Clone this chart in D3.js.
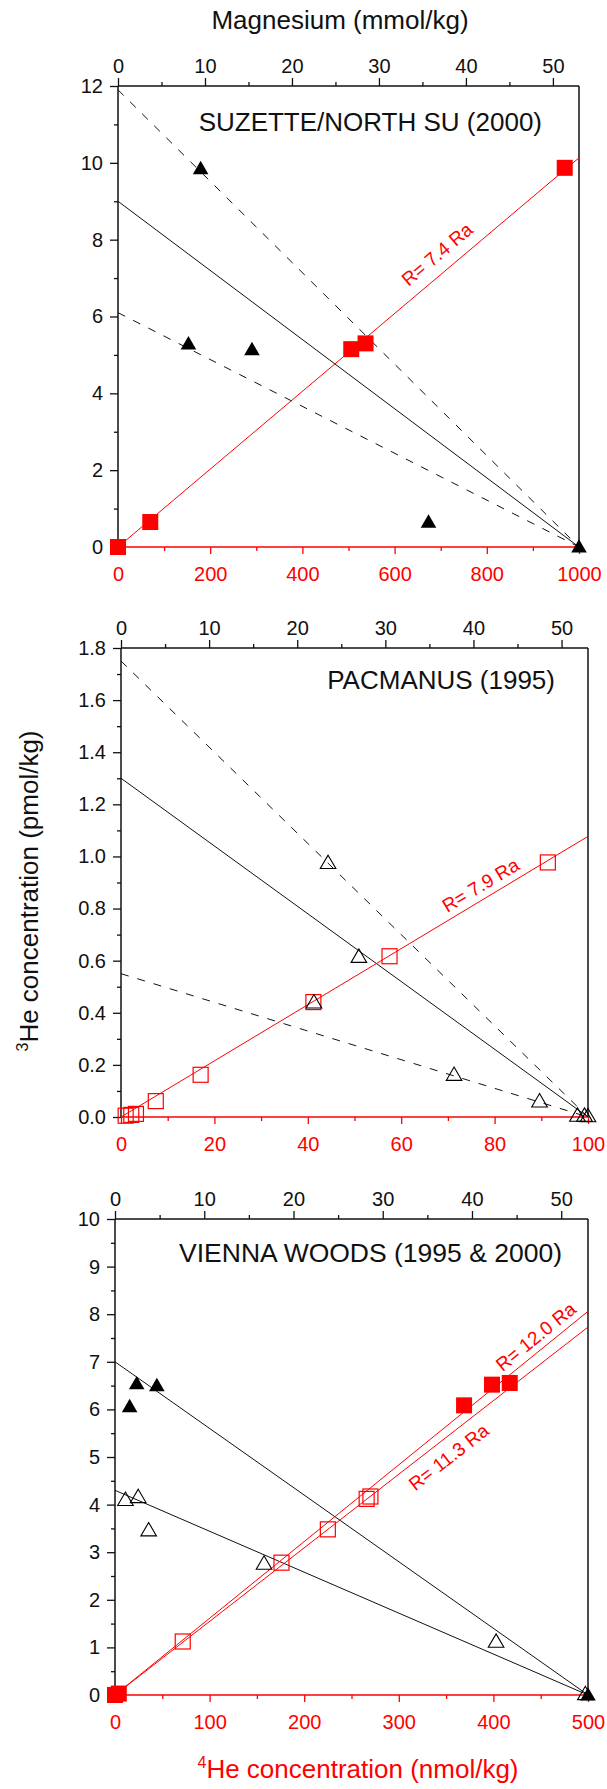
<!DOCTYPE html>
<html><head><meta charset="utf-8">
<script src="https://cdn.jsdelivr.net/npm/d3@7"></script>
<style>body{margin:0;background:#fff} svg text{font-family:"Liberation Sans",Arial,sans-serif}</style>
</head><body><svg id="c" width="607" height="1789"></svg>
<script>
// ---------- DATA ----------
const mgTicks = [0,10,20,30,40,50];
const mgMinor = [5,15,25,35,45];

// Panel 1: SUZETTE/NORTH SU (2000)
const p1Title = "SUZETTE/NORTH SU (2000)";
const p1He4 = [0, 70, 506, 537, 969];
const p1He3 = [0, 0.65, 5.15, 5.30, 9.87];
const p1TriMg = [9.5, 8.1, 15.4, 35.7, 53.0];
const p1TriHe3 = [9.85, 5.29, 5.14, 0.65, 0];
const p1MixSolid = [[0, 9.0], [53, 0]];
const p1MixDash = [[[0, 11.9], [53, 0]], [[0, 6.1], [53, 0]]];
const p1Ratio = [[0, 0], [1000, 10.13]];
const p1Label = {text: "R= 7.4 Ra", x: 692, y: 7.62};
const p1XTicks = [0,200,400,600,800,1000], p1XMinor = [100,300,500,700,900];
const p1YTicks = [0,2,4,6,8,10,12], p1YMinor = [1,3,5,7,9,11];

// Panel 2: PACMANUS (1995)
const p2Title = "PACMANUS (1995)";
const p2He4 = [1.0, 2.2, 3.2, 7.45, 17.05, 41.2, 57.5, 91.4];
const p2He3 = [0.005, 0.008, 0.012, 0.061, 0.162, 0.441, 0.617, 0.977];
const p2TriMg = [23.5, 27.0, 21.9, 37.8, 47.5, 51.8, 52.6, 53.0];
const p2TriHe3 = [0.975, 0.615, 0.44, 0.162, 0.06, 0.005, 0.005, 0.003];
const p2MixSolid = [[0, 1.30], [53, 0]];
const p2MixDash = [[[0, 1.75], [53, 0]], [[0, 0.55], [53, 0]]];
const p2Ratio = [[0, 0], [100, 1.077]];
const p2Label = {text: "R= 7.9 Ra", x: 77.0, y: 0.89};
const p2XTicks = [0,20,40,60,80,100], p2XMinor = [10,30,50,70,90];
const p2YTicks = [0,0.2,0.4,0.6,0.8,1.0,1.2,1.4,1.6,1.8], p2YMinor = [0.1,0.3,0.5,0.7,0.9,1.1,1.3,1.5,1.7];

// Panel 3: VIENNA WOODS (1995 & 2000)
const p3Title = "VIENNA WOODS (1995 & 2000)";
const p3He4Filled = [0, 4, 369, 398.5, 417.3];
const p3He3Filled = [0, 0.03, 6.085, 6.52, 6.555];
const p3He4Open = [71.6, 176, 225, 266, 270];
const p3He3Open = [1.124, 2.78, 3.48, 4.12, 4.17];
const p3TriFilledMg = [1.64, 2.43, 4.69, 53.0];
const p3TriFilledHe3 = [6.06, 6.54, 6.50, 0];
const p3TriOpenMg = [1.17, 2.6, 3.77, 16.7, 42.7, 52.7];
const p3TriOpenHe3 = [4.10, 4.16, 3.46, 2.76, 1.12, 0.02];
const p3MixSolid = [[[0, 7.0], [53, 0]], [[0, 4.3], [53, 0]]];
const p3Ratios = [[[0, 0], [500, 8.06]], [[0, 0], [500, 7.73]]];
const p3Labels = [{text: "R= 12.0 Ra", x: 444.8, y: 7.53, line: 0}, {text: "R= 11.3 Ra", x: 352.7, y: 5.0, line: 1}];
const p3XTicks = [0,100,200,300,400,500], p3XMinor = [50,150,250,350,450];
const p3YTicks = [0,1,2,3,4,5,6,7,8,9,10], p3YMinor = [0.5,1.5,2.5,3.5,4.5,5.5,6.5,7.5,8.5,9.5];

// ---------- DRAW ----------
const RED = "#ff0000";
const svg = d3.select("#c");
const zip = (a, b) => a.map((v, i) => [v, b[i]]);

function makePanel(o) {
  const g = svg.append("g");
  const x = d3.scaleLinear().domain(o.xDom).range([o.l, o.r]);
  const xm = d3.scaleLinear().domain([0, 53]).range([o.l, o.r]);
  const y = d3.scaleLinear().domain(o.yDom).range([o.b, o.t]);

  function styleAxis(sel, color) {
    sel.select(".domain").remove();
    sel.selectAll(".tick line").attr("stroke", color).attr("stroke-width", 1.3);
    sel.selectAll(".tick text").attr("fill", color).attr("font-size", 20)
       .attr("font-family", '"Liberation Sans",Arial,sans-serif');
  }
  // left
  g.append("g").attr("transform", `translate(${o.l},0)`)
    .call(d3.axisLeft(y).tickValues(o.yTicks).tickSize(8).tickPadding(7).tickFormat(o.yFmt))
    .call(s => styleAxis(s, "#111"));
  g.append("g").attr("transform", `translate(${o.l},0)`)
    .call(d3.axisLeft(y).tickValues(o.yMinor).tickSize(4).tickFormat(""))
    .call(s => styleAxis(s, "#111"));
  // top Mg
  g.append("g").attr("transform", `translate(0,${o.t})`)
    .call(d3.axisTop(xm).tickValues(mgTicks).tickSize(8).tickPadding(5).tickFormat(d3.format("d")))
    .call(s => styleAxis(s, "#111"));
  g.append("g").attr("transform", `translate(0,${o.t})`)
    .call(d3.axisTop(xm).tickValues(mgMinor).tickSize(4).tickFormat(""))
    .call(s => styleAxis(s, "#111"));
  // bottom He4
  g.append("g").attr("transform", `translate(0,${o.b})`)
    .call(d3.axisBottom(x).tickValues(o.xTicks).tickSize(7).tickPadding(13).tickFormat(d3.format("d")))
    .call(s => styleAxis(s, RED));
  g.append("g").attr("transform", `translate(0,${o.b})`)
    .call(d3.axisBottom(x).tickValues(o.xMinor).tickSize(4).tickFormat(""))
    .call(s => styleAxis(s, RED));
  // frame
  g.append("line").attr("x1", o.l).attr("x2", o.l).attr("y1", o.t).attr("y2", o.b).attr("stroke", "#111").attr("stroke-width", 1.5);
  g.append("line").attr("x1", o.l).attr("x2", o.r).attr("y1", o.t).attr("y2", o.t).attr("stroke", "#111").attr("stroke-width", 1.5);
  g.append("line").attr("x1", o.r).attr("x2", o.r).attr("y1", o.t).attr("y2", o.b).attr("stroke", "#111").attr("stroke-width", 1.5);
  g.append("line").attr("x1", o.l).attr("x2", o.r).attr("y1", o.b).attr("y2", o.b).attr("stroke", RED).attr("stroke-width", 1.5);

  // title
  g.append("text").attr("x", o.titleX).attr("y", o.titleY).attr("text-anchor", "end")
    .attr("font-size", o.titleSize || 26).attr("fill", "#111").text(o.title);

  return {g, x, xm, y};
}

function mixLine(P, pts, dashed) {
  P.g.append("line")
    .attr("x1", P.xm(pts[0][0])).attr("y1", P.y(pts[0][1]))
    .attr("x2", P.xm(pts[1][0])).attr("y2", P.y(pts[1][1]))
    .attr("stroke", "#111").attr("stroke-width", 1)
    .attr("stroke-dasharray", dashed ? "8,9" : null);
}
function ratioLine(P, pts) {
  P.g.append("line")
    .attr("x1", P.x(pts[0][0])).attr("y1", P.y(pts[0][1]))
    .attr("x2", P.x(pts[1][0])).attr("y2", P.y(pts[1][1]))
    .attr("stroke", RED).attr("stroke-width", 1);
}
function ratioLabel(P, lab, pts) {
  const ang = Math.atan2(P.y(pts[1][1]) - P.y(pts[0][1]), P.x(pts[1][0]) - P.x(pts[0][0])) * 180 / Math.PI;
  const px = P.x(lab.x), py = P.y(lab.y);
  P.g.append("text").attr("transform", `translate(${px},${py}) rotate(${ang})`)
    .attr("text-anchor", "middle").attr("dy", "0.35em")
    .attr("font-size", 19).attr("fill", RED).text(lab.text);
}
function squares(P, xs, ys, filled, size) {
  P.g.selectAll(null).data(zip(xs, ys)).enter().append("rect")
    .attr("x", d => P.x(d[0]) - size / 2).attr("y", d => P.y(d[1]) - size / 2)
    .attr("width", size).attr("height", size)
    .attr("fill", filled ? RED : "none").attr("stroke", RED).attr("stroke-width", filled ? 0 : 1.2);
}
function triangles(P, xs, ys, filled) {
  P.g.selectAll(null).data(zip(xs, ys)).enter().append("path")
    .attr("d", "M0,-7.8L7.8,5.6L-7.8,5.6Z")
    .attr("transform", d => `translate(${P.xm(d[0])},${P.y(d[1])})`)
    .attr("fill", filled ? "#000" : "none").attr("stroke", "#000").attr("stroke-width", filled ? 0 : 1.1);
}

// Panel 1
const P1 = makePanel({l: 118, r: 579, t: 86, b: 547, xDom: [0, 1000], yDom: [0, 12],
  xTicks: p1XTicks, xMinor: p1XMinor, yTicks: p1YTicks, yMinor: p1YMinor, yFmt: d3.format("d"),
  title: p1Title, titleX: 542, titleY: 131});
mixLine(P1, p1MixSolid, false);
p1MixDash.forEach(d => mixLine(P1, d, true));
ratioLine(P1, p1Ratio);
ratioLabel(P1, p1Label, p1Ratio);
triangles(P1, p1TriMg, p1TriHe3, true);
squares(P1, p1He4, p1He3, true, 16);

// Panel 2
const P2 = makePanel({l: 121, r: 588, t: 648, b: 1117, xDom: [0, 100], yDom: [0, 1.8],
  xTicks: p2XTicks, xMinor: p2XMinor, yTicks: p2YTicks, yMinor: p2YMinor, yFmt: d3.format(".1f"),
  title: p2Title, titleX: 555, titleY: 689});
mixLine(P2, p2MixSolid, false);
p2MixDash.forEach(d => mixLine(P2, d, true));
ratioLine(P2, p2Ratio);
ratioLabel(P2, p2Label, p2Ratio);
squares(P2, p2He4, p2He3, false, 15);
triangles(P2, p2TriMg, p2TriHe3, false);

// Panel 3
const P3 = makePanel({l: 115, r: 588, t: 1219, b: 1695, xDom: [0, 500], yDom: [0, 10],
  xTicks: p3XTicks, xMinor: p3XMinor, yTicks: p3YTicks, yMinor: p3YMinor, yFmt: d3.format("d"),
  title: p3Title, titleX: 562, titleY: 1262, titleSize: 26.5});
p3MixSolid.forEach(d => mixLine(P3, d, false));
p3Ratios.forEach(d => ratioLine(P3, d));
p3Labels.forEach(l => ratioLabel(P3, l, p3Ratios[l.line]));
triangles(P3, p3TriOpenMg, p3TriOpenHe3, false);
squares(P3, p3He4Open, p3He3Open, false, 15);
triangles(P3, p3TriFilledMg, p3TriFilledHe3, true);
squares(P3, p3He4Filled, p3He3Filled, true, 16);

// Axis titles
svg.append("text").attr("x", 340).attr("y", 29).attr("text-anchor", "middle")
  .attr("font-size", 26).attr("fill", "#111").text("Magnesium (mmol/kg)");

const yt = svg.append("text").attr("transform", "translate(38,891) rotate(-90)")
  .attr("text-anchor", "middle").attr("font-size", 26).attr("fill", "#111");
yt.append("tspan").attr("font-size", 16).attr("dy", -10).text("3");
yt.append("tspan").attr("dy", 10).text("He concentration (pmol/kg)");

const xt = svg.append("text").attr("x", 358).attr("y", 1778).attr("text-anchor", "middle")
  .attr("font-size", 26).attr("fill", RED);
xt.append("tspan").attr("font-size", 16).attr("dy", -10).text("4");
xt.append("tspan").attr("dy", 10).text("He concentration (nmol/kg)");
</script></body></html>
